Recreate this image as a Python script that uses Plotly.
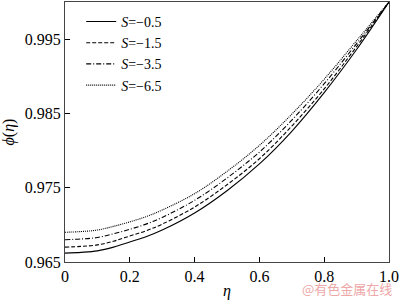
import plotly.graph_objects as go

eta = [0.0, 0.05, 0.1, 0.15, 0.2, 0.25, 0.3, 0.4, 0.5, 0.6, 0.7, 0.8, 0.9, 1.0]
phi_s05 = [0.9662, 0.9663, 0.9665, 0.9670, 0.9677, 0.9684, 0.9693, 0.9716, 0.9746, 0.9782, 0.9826, 0.9878, 0.9936, 1.0]
phi_s15 = [0.9670, 0.9671, 0.9673, 0.9678, 0.9685, 0.9692, 0.9701, 0.9724, 0.9754, 0.9789, 0.9833, 0.9883, 0.9940, 1.0]
phi_s35 = [0.9680, 0.9681, 0.9683, 0.9688, 0.9694, 0.9701, 0.9710, 0.9733, 0.9763, 0.9798, 0.9841, 0.9890, 0.9944, 1.0]
phi_s65 = [0.9690, 0.9691, 0.9693, 0.9698, 0.9704, 0.9711, 0.9720, 0.9742, 0.9772, 0.9807, 0.9849, 0.9896, 0.9948, 1.0]

series = [
    ("<i>S</i>=\u22120.5", phi_s05, "solid"),
    ("<i>S</i>=\u22121.5", phi_s15, "4px,2px"),
    ("<i>S</i>=\u22123.5", phi_s35, "5px,2px,1px,2px"),
    ("<i>S</i>=\u22126.5", phi_s65, "1px,1px"),
]

x_ticks = [0, 0.2, 0.4, 0.6, 0.8, 1.0]
x_tick_labels = ["0", "0.2", "0.4", "0.6", "0.8", "1.0"]
y_ticks = [0.965, 0.975, 0.985, 0.995]
y_tick_labels = ["0.965", "0.975", "0.985", "0.995"]

fig = go.Figure()
for name, ys, dash in series:
    fig.add_trace(go.Scatter(x=eta, y=ys, mode="lines", name=name,
                             line=dict(color="black", width=1.1, dash=dash, shape="spline")))

serif = "Liberation Serif"
font = dict(family=serif, size=16, color="black")

fig.update_layout(
    width=400, height=300,
    margin=dict(l=65, r=7, t=1, b=38),
    paper_bgcolor="white", plot_bgcolor="white",
    font=font,
    showlegend=True,
    legend=dict(x=0.05, y=0.985, xanchor="left", yanchor="top",
                bgcolor="rgba(0,0,0,0)", font=dict(family=serif, size=14, color="black"),
                itemwidth=30, tracegroupgap=0),
    xaxis=dict(range=[0, 1.0], tickvals=x_ticks, ticktext=x_tick_labels,
               ticks="inside", ticklen=5, tickcolor="black",
               ticklabeloverflow="allow",
               showline=True, linecolor="#444", linewidth=1, mirror=True,
               showgrid=False, zeroline=False,
               title=dict(text="<i>\u03b7</i>", standoff=2, font=font)),
    yaxis=dict(range=[0.965, 1.0], tickvals=y_ticks, ticktext=y_tick_labels,
               ticks="inside", ticklen=5, tickcolor="black",
               showline=True, linecolor="#444", linewidth=1, mirror=True,
               showgrid=False, zeroline=False,
               title=dict(text="<i>\u03d5</i>(<i>\u03b7</i>)", standoff=8, font=font)),
)

fig.add_annotation(text="@有色金属在线", xref="paper", yref="paper",
                   x=1.015, y=-0.148, xanchor="right", yanchor="bottom",
                   showarrow=False,
                   font=dict(family="Noto Sans CJK SC", size=13, color="#eda7a7"))

fig.write_html("out.html", config={"displayModeBar": False},
               post_script="document.body.style.margin='0';")
